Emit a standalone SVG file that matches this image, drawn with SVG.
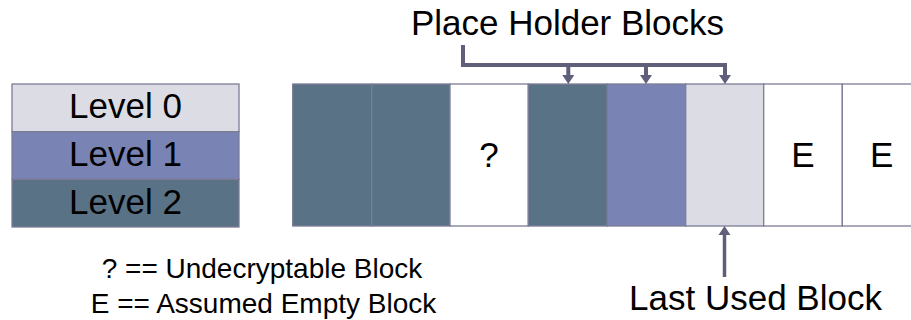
<svg xmlns="http://www.w3.org/2000/svg" width="911" height="320" viewBox="0 0 911 320">
<style>
.t{font-family:Arial,"Liberation Sans",Helvetica,sans-serif;fill:#000;text-anchor:middle}
.big{font-size:35px}
.sm{font-size:28px}
.l0{fill:#dcdce4}
.l1{fill:#7a84b4}
.l2{fill:#5a7286}
.wh{fill:#ffffff}
.bd{stroke:#7c7c96;stroke-width:1.3}
.cn{fill:none;stroke:#5f5f7a;stroke-width:4}
</style>
<defs>
<marker id="ah" markerUnits="userSpaceOnUse" markerWidth="11" markerHeight="14" refX="0" refY="7" orient="auto">
<path d="M0,1 L9,7 L0,13 Z" fill="#5f5f7a"/>
</marker>
</defs>
<rect width="911" height="320" fill="#ffffff"/>
<g id="legend-level0"><rect class="l0 bd" x="12" y="84" width="227" height="47.7"/><text class="t big" x="125.5" y="118">Level 0</text></g>
<g id="legend-level1"><rect class="l1 bd" x="12" y="131.7" width="227" height="47.7"/><text class="t big" x="125.5" y="166">Level 1</text></g>
<g id="legend-level2"><rect class="l2 bd" x="12" y="179.4" width="227" height="47.6"/><text class="t big" x="125.5" y="213.5">Level 2</text></g>
<g id="block1"><rect class="l2 bd" x="292.7" y="84" width="79" height="142"/></g>
<g id="block2"><rect class="l2 bd" x="371.7" y="84" width="78.3" height="142"/></g>
<g id="block3"><rect class="wh bd" x="450" y="84" width="78.3" height="142"/><text class="t big" x="489" y="167">?</text></g>
<g id="block4"><rect class="l2 bd" x="528.3" y="84" width="79" height="142"/></g>
<g id="block5"><rect class="l1 bd" x="607.3" y="84" width="78.4" height="142"/></g>
<g id="block6"><rect class="l0 bd" x="685.7" y="84" width="78" height="142"/></g>
<g id="block7"><rect class="wh bd" x="763.7" y="84" width="78.6" height="142"/><text class="t big" x="803" y="167">E</text></g>
<g id="block8"><rect class="wh bd" x="842.3" y="84" width="80" height="142"/><text class="t big" x="881.7" y="167">E</text></g>
<g id="label-placeholder"><text class="t big" x="567.5" y="35">Place Holder Blocks</text></g>
<g id="label-lastused"><text class="t big" x="755.5" y="310">Last Used Block</text></g>
<g id="legend-key"><text class="t sm" x="262" y="278">? == Undecryptable Block</text><text class="t sm" x="263.5" y="313">E == Assumed Empty Block</text></g>
<g id="connectors">
<path class="cn" d="M463,45 V65 H725"/>
<path class="cn" d="M568.3,65 V75" marker-end="url(#ah)"/>
<path class="cn" d="M646,65 V75" marker-end="url(#ah)"/>
<path class="cn" d="M725,63 V75" marker-end="url(#ah)"/>
<path class="cn" style="stroke-width:3.5" d="M724.5,277 V235" marker-end="url(#ah)"/>
</g>
</svg>
